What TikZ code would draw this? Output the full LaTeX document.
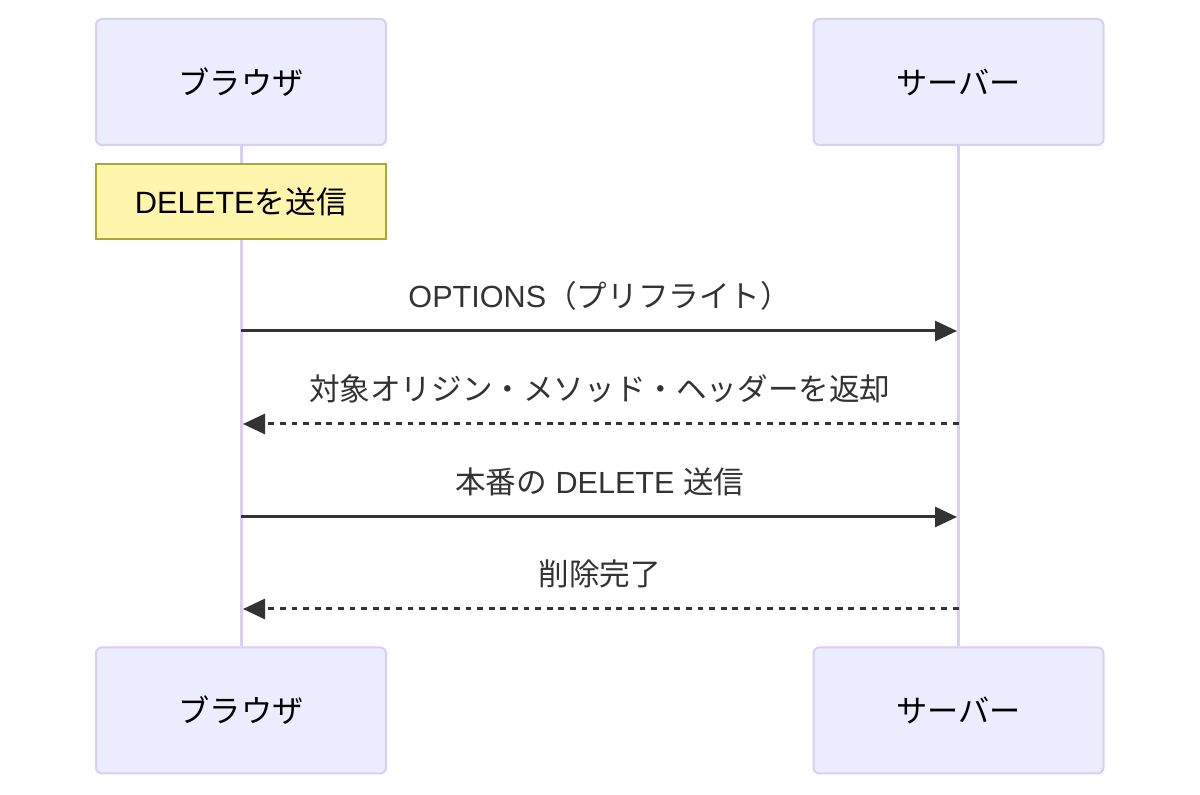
\documentclass[tikz,border=0pt]{standalone}
\usepackage{fontspec}
\setmainfont{Noto Sans CJK JP}
\newfontfamily\la{Liberation Sans}
\usetikzlibrary{arrows.meta}
\definecolor{actfill}{HTML}{ECECFF}
\definecolor{actline}{HTML}{DACEF3}
\definecolor{notefill}{HTML}{FFF5AD}
\definecolor{noteline}{HTML}{AAAA33}
\definecolor{msgc}{HTML}{333333}
\begin{document}
\begin{tikzpicture}[x=0.5pt,y=-0.5pt,
  actor/.style={draw=actline, fill=actfill, line width=1pt, rounded corners=3pt,
    minimum width=145pt, minimum height=63pt, inner sep=0pt, text=black,
    font=\fontsize{15.6pt}{19pt}\selectfont},
  notebox/.style={draw=noteline, fill=notefill, line width=1pt,
    minimum width=145pt, minimum height=37.5pt, inner sep=0pt, text=black,
    font=\fontsize{15.4pt}{19pt}\selectfont},
  lifeline/.style={draw=actline, line width=1.5pt},
  lbl/.style={anchor=base, inner sep=0pt, text=msgc, font=\fontsize{15.3pt}{19pt}\selectfont},
  msgsolid/.style={draw=msgc, line width=1.5pt, -{Triangle[length=11pt,width=10pt]}, shorten >=0.75pt},
  msgdash/.style={draw=msgc, line width=1.5pt, dash pattern=on 2.9pt off 2.9pt, -{Triangle[length=11pt,width=10pt]}, shorten >=1pt}
]
\fill[white] (0,0) rectangle (1200,795);
\path[use as bounding box] (0,0) rectangle (1200,795);

\node[actor] (a1) at (241,82) {ブラウザ};
\node[actor] (a2) at (958.5,82) {サーバー};
\node[actor] (b1) at (241,710.5) {ブラウザ};
\node[actor] (b2) at (958.5,710.5) {サーバー};

\draw[lifeline] (a1.south) -- (b1.north);
\draw[lifeline] (a2.south) -- (b2.north);

\node[notebox] (n1) at (241,201.5) {{\la DELETE}を送信};

\coordinate (L1) at (241,331);   \coordinate (R1) at (958.5,331);
\coordinate (L2) at (241,424);   \coordinate (R2) at (958.5,424);
\coordinate (L3) at (241,517);   \coordinate (R3) at (958.5,517);
\coordinate (L4) at (241,609);   \coordinate (R4) at (958.5,609);

\node[lbl] (m1) at (599.75,308) {{\la OPTIONS}（プリフライト）};
\draw[msgsolid] (L1) -- (R1);

\node[lbl] (m2) at (599.75,401) {対象オリジン・メソッド・ヘッダーを返却};
\draw[msgdash] (R2) -- (L2);

\node[lbl] (m3) at (599.75,494) {本番の{\la\ DELETE\ }送信};
\draw[msgsolid] (L3) -- (R3);

\node[lbl] (m4) at (599.75,586) {削除完了};
\draw[msgdash] (R4) -- (L4);
\end{tikzpicture}
\end{document}
